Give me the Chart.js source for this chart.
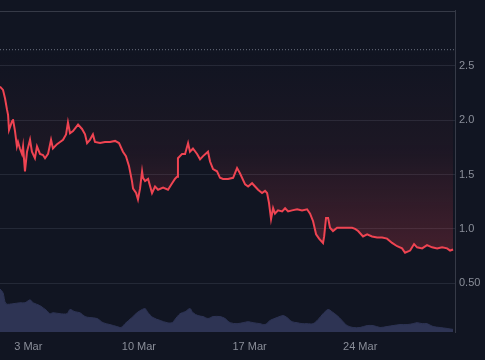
<!DOCTYPE html>
<html>
<head>
<meta charset="utf-8">
<script src="https://cdn.jsdelivr.net/npm/chart.js@4.4.1/dist/chart.umd.min.js"></script>
<style>
  html, body { margin: 0; padding: 0; background: #111522; }
  #priceChart { display: block; }
</style>
</head>
<body>
<canvas id="priceChart" width="485" height="360"></canvas>
<script>
// Price history, March (x = day of month, fractional)
const priceDays = [
    1.21, 1.40, 1.53, 1.65, 1.72, 1.78, 1.97, 2.03, 2.16, 2.28, 2.35, 2.47, 2.60, 2.67, 2.79, 2.92,
    3.11, 3.23, 3.42, 3.55, 3.74, 3.93, 4.06, 4.25, 4.44, 4.56, 4.82, 5.01, 5.20, 5.39, 5.51, 5.64,
    5.83, 6.15, 6.40, 6.59, 6.72, 6.90, 7.09, 7.22, 7.54, 7.85, 8.17, 8.49, 8.74, 8.99, 9.18, 9.37,
    9.56, 9.63, 9.82, 9.94, 10.07, 10.20, 10.26, 10.39, 10.58, 10.83, 11.02, 11.21, 11.53, 11.84,
    12.10, 12.28, 12.41, 12.47, 12.73, 12.92, 13.11, 13.23, 13.42, 13.68, 13.87, 14.06, 14.37, 14.50,
    14.69, 14.94, 15.13, 15.32, 15.64, 15.96, 16.21, 16.40, 16.72, 16.91, 17.16, 17.35, 17.54, 17.79,
    17.98, 18.11, 18.23, 18.36, 18.49, 18.61, 18.80, 19.06, 19.25, 19.44, 19.69, 20.01, 20.32, 20.64,
    20.83, 21.02, 21.21, 21.40, 21.65, 21.72, 21.84, 21.97, 22.09, 22.28, 22.54, 22.85, 23.17, 23.49,
    23.68, 23.87, 24.18, 24.44, 24.75, 25.07, 25.39, 25.70, 26.02, 26.34, 26.65, 26.84, 27.16, 27.41,
    27.60, 27.92, 28.23, 28.55, 28.87, 29.18, 29.50, 29.69, 29.88
];
const priceValues = [
    2.31, 2.28, 2.20, 2.10, 2.05, 1.91, 1.99, 2.01, 1.90, 1.76, 1.80, 1.74, 1.69, 1.76, 1.53, 1.71,
    1.82, 1.71, 1.65, 1.76, 1.69, 1.68, 1.65, 1.69, 1.82, 1.74, 1.78, 1.80, 1.82, 1.87, 1.98, 1.88,
    1.90, 1.96, 1.92, 1.87, 1.79, 1.82, 1.87, 1.80, 1.79, 1.80, 1.80, 1.81, 1.79, 1.71, 1.67, 1.58,
    1.44, 1.37, 1.33, 1.27, 1.37, 1.53, 1.47, 1.44, 1.46, 1.33, 1.39, 1.36, 1.38, 1.36,
    1.42, 1.46, 1.48, 1.65, 1.69, 1.69, 1.79, 1.71, 1.74, 1.69, 1.64, 1.67, 1.71, 1.62,
    1.55, 1.53, 1.47, 1.46, 1.46, 1.47, 1.56, 1.51, 1.41, 1.39, 1.42, 1.39, 1.36, 1.33,
    1.35, 1.33, 1.24, 1.09, 1.19, 1.14, 1.17, 1.16, 1.19, 1.16, 1.17, 1.18, 1.17, 1.18,
    1.14, 1.07, 0.95, 0.91, 0.87, 0.93, 1.10, 1.10, 1.01, 0.98, 1.01, 1.01, 1.01, 1.01,
    1.00, 0.98, 0.93, 0.95, 0.93, 0.92, 0.92, 0.91, 0.87, 0.84, 0.82, 0.78, 0.80, 0.86,
    0.83, 0.82, 0.85, 0.83, 0.82, 0.83, 0.82, 0.80, 0.81
];

// Volume (arbitrary units)
const volumeDays = [
    1.21, 1.40, 1.59, 2.03, 2.47, 2.79, 3.11, 3.30, 3.74, 4.18, 4.37, 4.56, 5.01, 5.45, 5.64, 5.96,
    6.27, 6.59, 6.90, 7.35, 7.73, 8.17, 8.61, 8.87, 9.12, 9.56, 9.88, 10.20, 10.39, 10.58, 10.89, 11.34,
    11.78, 12.10, 12.28, 12.60, 12.92, 13.23, 13.42, 13.74, 14.06, 14.37, 14.69, 15.13, 15.45, 15.77,
    16.21, 16.59, 16.91, 17.22, 17.66, 17.98, 18.30, 18.74, 19.12, 19.37, 19.69, 20.01, 20.32, 20.64,
    21.02, 21.34, 21.65, 21.97, 22.22, 22.54, 22.85, 23.17, 23.55, 23.99, 24.44, 24.82, 25.26, 25.70,
    26.08, 26.52, 26.97, 27.35, 27.60, 27.92, 28.23, 28.61, 29.06, 29.50, 29.88
];
const volumeValues = [
    13.4, 12.2, 8.8, 8.8, 9.1, 9.1, 10.0, 9.1, 8.2, 6.6, 5.7, 6.0, 5.7, 5.7, 7.0, 6.3,
    6.0, 4.8, 4.5, 4.2, 2.9, 2.3, 1.7, 1.4, 2.6, 4.5, 6.0, 7.0, 7.3, 6.0, 4.5, 3.6,
    2.9, 2.9, 3.9, 5.7, 6.3, 7.3, 6.0, 5.1, 4.8, 4.2, 4.8, 4.8, 4.2, 2.9,
    2.6, 2.9, 3.2, 2.9, 2.6, 2.3, 3.6, 4.5, 5.1, 4.5, 3.2, 2.9, 2.6, 2.6,
    2.6, 3.9, 5.7, 7.0, 6.3, 5.1, 3.6, 2.0, 1.4, 1.4, 2.0, 2.0, 1.4, 1.7,
    2.0, 2.3, 2.3, 2.6, 2.9, 2.6, 2.6, 1.7, 1.4, 1.1, 0.8
];

// Reference price line and axis labels
const baselineValue = 2.65;
const priceTicks = [0.5, 1.0, 1.5, 2.0, 2.5];
const priceTickLabels = ['0.50', '1.0', '1.5', '2.0', '2.5'];
const dateTicks = [3, 10, 17, 24];
const dateTickLabels = ['3 Mar', '10 Mar', '17 Mar', '24 Mar'];

const xMin = 1.21;
const xMax = 30.0;

const lineColor = '#ef4452';
const axisTextColor = '#8a8e99';
const gridColor = '#242937';
const borderColor = '#363a47';

// Draws the top edge of the pane
const paneBorder = {
    id: 'paneBorder',
    afterDraw(chart) {
        const { ctx, chartArea } = chart;
        ctx.save();
        ctx.strokeStyle = borderColor;
        ctx.lineWidth = 1;
        ctx.beginPath();
        ctx.moveTo(chartArea.left, Math.round(chartArea.top) + 0.5);
        ctx.lineTo(chartArea.right, Math.round(chartArea.top) + 0.5);
        ctx.stroke();
        ctx.restore();
    }
};

// Red fade between the baseline and the bottom of the pane
function baselineGradient(context) {
    const chart = context.chart;
    const { ctx, chartArea, scales } = chart;
    if (!chartArea) return 'rgba(239, 68, 82, 0.2)';
    const top = scales.y.getPixelForValue(baselineValue);
    const gradient = ctx.createLinearGradient(0, top, 0, chartArea.bottom);
    gradient.addColorStop(0, 'rgba(239, 68, 82, 0.0)');
    gradient.addColorStop(0.35, 'rgba(239, 68, 82, 0.05)');
    gradient.addColorStop(0.7, 'rgba(239, 68, 82, 0.22)');
    gradient.addColorStop(1, 'rgba(239, 68, 82, 0.4)');
    return gradient;
}

const chartFont = { family: '"Liberation Sans", Arial, sans-serif', size: 11 };

new Chart(document.getElementById('priceChart').getContext('2d'), {
    type: 'line',
    data: {
        datasets: [
            {
                label: 'Price',
                data: priceDays.map((d, i) => ({ x: d, y: priceValues[i] })),
                yAxisID: 'y',
                borderColor: lineColor,
                borderWidth: 2,
                backgroundColor: baselineGradient,
                fill: { value: baselineValue },
                pointRadius: 0,
                tension: 0,
                order: 1
            },
            {
                label: 'Baseline',
                data: [{ x: xMin, y: baselineValue }, { x: xMax, y: baselineValue }],
                yAxisID: 'y',
                borderColor: '#6c7080',
                borderWidth: 1,
                borderDash: [1, 2],
                pointRadius: 0,
                fill: false,
                order: 2
            },
            {
                label: 'Volume',
                data: volumeDays.map((d, i) => ({ x: d, y: volumeValues[i] })),
                yAxisID: 'yVol',
                borderColor: '#2e3454',
                borderWidth: 1,
                backgroundColor: '#2e3454',
                fill: 'origin',
                pointRadius: 0,
                tension: 0.3,
                order: 3
            }
        ]
    },
    options: {
        responsive: false,
        animation: false,
        layout: { padding: { top: 8, left: 0, right: 0, bottom: 0 } },
        plugins: {
            legend: { display: false },
            tooltip: { enabled: false }
        },
        scales: {
            x: {
                type: 'linear',
                min: xMin,
                max: xMax,
                grid: { display: false },
                border: { display: false },
                afterBuildTicks: axis => {
                    axis.ticks = dateTicks.map(v => ({ value: v }));
                },
                afterFit: axis => { axis.height = 28; },
                ticks: {
                    color: axisTextColor,
                    font: chartFont,
                    padding: 0,
                    maxRotation: 0,
                    autoSkip: false,
                    callback: value => dateTickLabels[dateTicks.indexOf(value)]
                }
            },
            y: {
                position: 'right',
                min: 0.05,
                max: 3.01,
                grid: { color: gridColor, drawTicks: false },
                border: { display: true, color: borderColor },
                afterBuildTicks: axis => {
                    axis.ticks = priceTicks.map(v => ({ value: v }));
                },
                afterFit: axis => { axis.width = 30; },
                ticks: {
                    color: axisTextColor,
                    font: chartFont,
                    padding: 4,
                    callback: value => priceTickLabels[priceTicks.indexOf(value)]
                }
            },
            yVol: {
                display: false,
                min: 0,
                max: 100
            }
        }
    },
    plugins: [paneBorder]
});
</script>
</body>
</html>
